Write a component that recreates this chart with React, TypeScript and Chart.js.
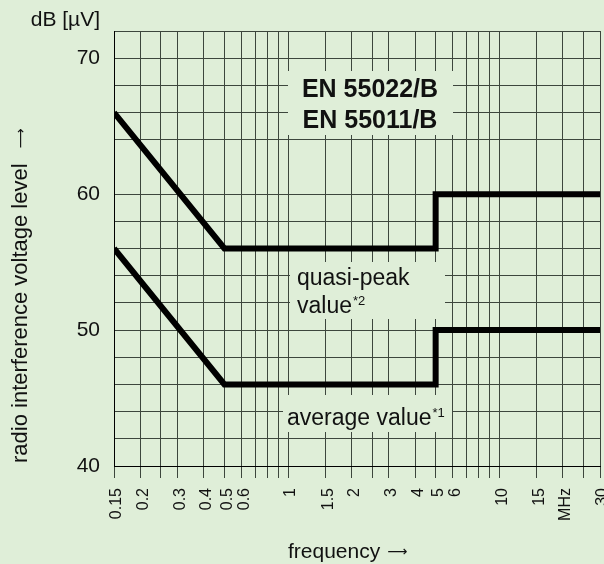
import React, { useEffect, useRef } from "react";
import { Chart, registerables } from "chart.js";

Chart.register(...registerables);

// ---- data ----
const frequencies = [0.15, 0.5, 5, 5, 30]; // MHz
const quasiPeak = [66, 56, 56, 60, 60]; // dB[µV]
const average = [56, 46, 46, 50, 50]; // dB[µV]

const xGridValues = [
  0.15, 0.2, 0.25, 0.3, 0.4, 0.5, 0.6, 0.7, 0.8, 0.9, 1, 1.5, 2, 2.5, 3, 4, 5,
  6, 7, 8, 9, 10, 15, 20, 25, 30,
];
const xLabelValues = [0.15, 0.2, 0.3, 0.4, 0.5, 0.6, 1, 1.5, 2, 3, 4, 5, 6, 10, 15, 20, 30];
const xLabelTexts = ["0.15", "0.2", "0.3", "0.4", "0.5", "0.6", "1", "1.5", "2", "3", "4", "5", "6", "10", "15", "MHz", "30"];

const yGridValues = [40, 42, 44, 46, 48, 50, 52, 54, 56, 58, 60, 64, 66, 68, 70, 72];
const yLabelValues = [40, 50, 60, 70];

const standardLines = ["EN 55022/B", "EN 55011/B"];
const quasiPeakLines = ["quasi-peak", "value"];
const quasiPeakNote = "*2";
const averageText = "average value";
const averageNote = "*1";
const yTitle = "radio interference voltage level";
const xTitle = "frequency";
const ARROW = "\u27f6";
const yUnit = "dB [\u00b5V]";

// ---- styles ----
const BG = "#dfeed8";
const GRID = "#3d463d";
const FONT = "'Liberation Sans', Arial, Helvetica, sans-serif";
const ARROW_FONT = "14px 'DejaVu Sans', sans-serif";

const labelsPlugin = {
  id: "emcLabels",
  beforeDraw(chart: any) {
    const { ctx, width, height } = chart;
    ctx.save();
    ctx.fillStyle = BG;
    ctx.fillRect(0, 0, width, height);
    ctx.restore();
  },
  beforeDatasetsDraw(chart: any) {
    const { ctx, chartArea: a } = chart;
    const L = a.left;
    const T = a.top;
    ctx.save();
    ctx.fillStyle = BG;
    // text backgrounds that hide the grid
    ctx.fillRect(L + 174, T + 40, 165, 64);
    ctx.fillRect(L + 176, T + 231, 155, 57);
    ctx.fillRect(L + 169, T + 364, 169, 37);

    ctx.fillStyle = "#111";
    ctx.textBaseline = "alphabetic";
    // standard names
    ctx.font = `bold 25px ${FONT}`;
    ctx.textAlign = "center";
    ctx.fillText(standardLines[0], L + 256, T + 66);
    ctx.fillText(standardLines[1], L + 256, T + 97);

    // quasi-peak
    ctx.textAlign = "left";
    ctx.font = `23px ${FONT}`;
    ctx.fillText(quasiPeakLines[0], L + 183, T + 254);
    ctx.fillText(quasiPeakLines[1], L + 183, T + 282);
    let w = ctx.measureText(quasiPeakLines[1]).width;
    ctx.font = `13px ${FONT}`;
    ctx.fillText(quasiPeakNote, L + 183 + w + 1, T + 274);

    // average
    ctx.font = `23px ${FONT}`;
    ctx.fillText(averageText, L + 173, T + 394);
    w = ctx.measureText(averageText).width;
    ctx.font = `13px ${FONT}`;
    ctx.fillText(averageNote, L + 173 + w + 1, T + 386);
    ctx.restore();
  },
  afterDraw(chart: any) {
    const { ctx, chartArea: a } = chart;
    ctx.save();
    ctx.fillStyle = "#111";
    ctx.textBaseline = "alphabetic";
    ctx.font = `21px ${FONT}`;
    // unit above y axis
    ctx.textAlign = "right";
    ctx.fillText(yUnit, a.left - 14, a.top - 5);

    // x title with arrow
    ctx.textAlign = "left";
    const xw = ctx.measureText(xTitle).width;
    const xStart = 288;
    const xBase = chart.height - 6;
    ctx.fillText(xTitle, xStart, xBase);
    ctx.font = ARROW_FONT;
    ctx.fillText(ARROW, xStart + xw + 7, xBase - 2);

    // y title with arrow (rotated)
    ctx.font = `22px ${FONT}`;
    ctx.translate(27, a.bottom - 3);
    ctx.rotate(-Math.PI / 2);
    ctx.fillText(yTitle, 0, 0);
    const yw = ctx.measureText(yTitle).width;
    ctx.font = ARROW_FONT;
    ctx.fillText(ARROW, yw + 15, -2);
    ctx.restore();
  },
};

export default function App() {
  const canvasRef = useRef<HTMLCanvasElement | null>(null);

  useEffect(() => {
    const canvas = canvasRef.current;
    if (!canvas) return;
    const toPoints = (ys: number[]) => frequencies.map((f, i) => ({ x: f, y: ys[i] }));
    const lineStyle = {
      showLine: true,
      borderColor: "#000",
      backgroundColor: "#000",
      borderWidth: 6,
      pointRadius: 0,
      tension: 0,
      borderJoinStyle: "miter" as const,
      borderCapStyle: "butt" as const,
    };
    const chart = new Chart(canvas, {
      type: "scatter",
      data: {
        datasets: [
          { label: "quasi-peak value", data: toPoints(quasiPeak), ...lineStyle },
          { label: "average value", data: toPoints(average), ...lineStyle },
        ],
      },
      options: {
        responsive: false,
        devicePixelRatio: 1,
        animation: false,
        events: [],
        layout: { padding: { left: 0, right: 4, top: 31, bottom: 0 } },
        plugins: {
          legend: { display: false },
          tooltip: { enabled: false },
          title: { display: false },
        },
        scales: {
          x: {
            type: "logarithmic",
            min: 0.15,
            max: 30,
            afterBuildTicks: (s: any) => {
              s.ticks = xGridValues.map((v) => ({ value: v }));
            },
            afterFit: (s: any) => {
              s.height = 98;
              s.paddingLeft = 0;
              s.paddingRight = 0;
            },
            ticks: {
              autoSkip: false,
              maxRotation: 90,
              minRotation: 90,
              padding: 10,
              labelOffset: 3,
              color: "#111",
              font: { family: FONT, size: 16 },
              callback: (v: any) => {
                const idx = xLabelValues.findIndex((l) => Math.abs(l - Number(v)) < 1e-9);
                return idx >= 0 ? xLabelTexts[idx] : "";
              },
            },
            grid: {
              color: GRID,
              lineWidth: 1,
              drawTicks: true,
              tickLength: 12,
              tickColor: GRID,
            },
            border: { display: true, color: "#000", width: 1 },
          },
          y: {
            type: "linear",
            min: 40,
            max: 72,
            afterBuildTicks: (s: any) => {
              s.ticks = yGridValues.map((v) => ({ value: v }));
            },
            afterFit: (s: any) => {
              s.width = 114;
            },
            ticks: {
              autoSkip: false,
              padding: 14,
              color: "#111",
              font: { family: FONT, size: 21 },
              callback: (v: any) => (yLabelValues.includes(Number(v)) ? String(v) : ""),
            },
            grid: {
              color: GRID,
              lineWidth: 1,
              drawTicks: false,
              tickLength: 0,
            },
            border: { display: true, color: "#000", width: 1 },
          },
        },
      },
      plugins: [labelsPlugin],
    });
    return () => chart.destroy();
  }, []);

  return (
    <div
      style={{
        position: "absolute",
        left: 0,
        top: 0,
        width: 604,
        height: 564,
        background: BG,
      }}
    >
      <canvas ref={canvasRef} width={604} height={564} style={{ display: "block" }} />
    </div>
  );
}
